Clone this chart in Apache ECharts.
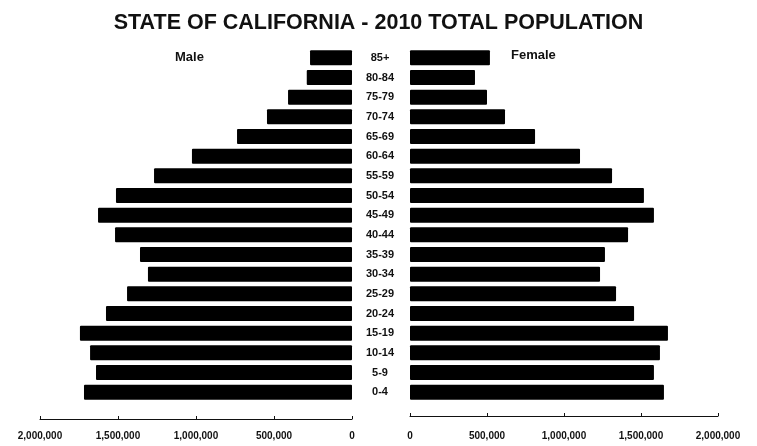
<!DOCTYPE html>
<html>
<head>
<meta charset="utf-8">
<script src="https://cdn.jsdelivr.net/npm/echarts@6/dist/echarts.min.js"></script>
<style>
    html, body {margin: 0; padding: 0; background: #fff;}
    #chart {width: 757px; height: 446px;}
</style>
</head>
<body>
<div id="chart"></div>
<script>
// age groups, top to bottom
const ages = ['85+', '80-84', '75-79', '70-74', '65-69', '60-64', '55-59', '50-54', '45-49',
    '40-44', '35-39', '30-34', '25-29', '20-24', '15-19', '10-14', '5-9', '0-4'];

// male population
const male = [269000, 290000, 410000, 545000, 737000, 1026000, 1269000, 1513000, 1628000,
    1519000, 1359000, 1308000, 1442000, 1577000, 1744000, 1679000, 1641000, 1718000];

// female population
const female = [519000, 422000, 500000, 617000, 812000, 1104000, 1312000, 1519000, 1584000,
    1416000, 1266000, 1234000, 1338000, 1455000, 1675000, 1623000, 1584000, 1649000];

const axisMax = 2000000;
const axisStep = 500000;

const chart = echarts.init(document.getElementById('chart'));

const fmt = v => v.toLocaleString('en-US');
const tickFont = {fontFamily: 'Liberation Sans', fontWeight: 'bold', fontSize: 10, color: '#111'};

let option = {
    backgroundColor: '#fff',
    animation: false,
    title: {
        text: 'STATE OF CALIFORNIA - 2010 TOTAL POPULATION',
        left: 'center',
        top: 7,
        textStyle: {fontFamily: 'Liberation Sans', fontWeight: 'bold', fontSize: 21.5, color: '#111'}
    },
    graphic: [
        {type: 'text', left: 175, top: 51, style: {text: 'Male', font: 'bold 13px "Liberation Sans"', fill: '#111'}},
        {type: 'text', left: 511, top: 49, style: {text: 'Female', font: 'bold 13px "Liberation Sans"', fill: '#111'}}
    ],
    grid: [
        {left: 40, width: 312, top: 48, height: 354},
        {left: 410, width: 308, top: 48, height: 354}
    ],
    xAxis: [{
        gridIndex: 0,
        type: 'value',
        inverse: true,
        min: 0,
        max: axisMax,
        interval: axisStep,
        offset: 17,
        splitLine: {show: false},
        axisLine: {show: true, lineStyle: {color: '#111', width: 1}},
        axisTick: {show: true, inside: true, length: 3, lineStyle: {color: '#111'}},
        axisLabel: Object.assign({margin: 12, formatter: fmt}, tickFont)
    }, {
        gridIndex: 1,
        type: 'value',
        min: 0,
        max: axisMax,
        interval: axisStep,
        offset: 14,
        splitLine: {show: false},
        axisLine: {show: true, lineStyle: {color: '#111', width: 1}},
        axisTick: {show: true, inside: true, length: 3, lineStyle: {color: '#111'}},
        axisLabel: Object.assign({margin: 15, formatter: fmt}, tickFont)
    }],
    yAxis: [{
        gridIndex: 0,
        type: 'category',
        data: ages,
        inverse: true,
        axisLine: {show: false},
        axisTick: {show: false},
        axisLabel: {show: false}
    }, {
        gridIndex: 1,
        type: 'category',
        data: ages,
        inverse: true,
        axisLine: {show: false},
        axisTick: {show: false},
        axisLabel: {
            align: 'center',
            margin: 30,
            fontFamily: 'Liberation Sans',
            fontWeight: 'bold',
            fontSize: 11,
            color: '#111'
        }
    }],
    series: [{
        name: 'Male',
        type: 'bar',
        xAxisIndex: 0,
        yAxisIndex: 0,
        data: male,
        barCategoryGap: '24%',
        itemStyle: {color: '#000', borderRadius: 1}
    }, {
        name: 'Female',
        type: 'bar',
        xAxisIndex: 1,
        yAxisIndex: 1,
        data: female,
        barCategoryGap: '24%',
        itemStyle: {color: '#000', borderRadius: 1}
    }]
};

chart.setOption(option);
</script>
</body>
</html>
